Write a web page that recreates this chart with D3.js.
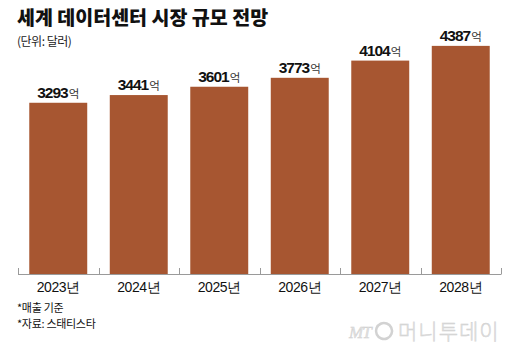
<!DOCTYPE html>
<html><head><meta charset="utf-8">
<script src="https://cdn.jsdelivr.net/npm/d3@7"></script>
<style>body{margin:0;background:#fff}svg{display:block}</style>
</head><body>
<script>
const categories = ["2023년","2024년","2025년","2026년","2027년","2028년"];
const values = [3293, 3441, 3601, 3773, 4104, 4387];
const valueLabels = ["3293","3441","3601","3773","4104","4387"];
const unitSuffix = "억";
const title = "세계 데이터센터 시장 규모 전망";
const subtitle = "(단위: 달러)";
const notes = ["*매출 기준", "*자료: 스태티스타"];

const W = 520, H = 355;
const svg = d3.select("body").append("svg").attr("width", W).attr("height", H);
const font = "'Noto Sans CJK KR','Liberation Sans',sans-serif";

svg.append("text").attr("x", 17).attr("y", 25).text(title)
  .attr("font-family", font).attr("font-weight", 900).attr("font-size", 19.5).attr("fill", "#111").attr("letter-spacing", 0);
svg.append("text").attr("x", 17).attr("y", 46).text(subtitle)
  .attr("font-family", font).attr("font-size", 12).attr("fill", "#222").attr("letter-spacing", -0.5);

const x = d3.scaleBand().domain(categories).range([18, 501]).paddingInner(0.28).paddingOuter(0.14);
const y = d3.scaleLinear().domain([0, 5000]).range([274, 14]);

const g = svg.append("g");
g.selectAll("rect").data(values).join("rect")
  .attr("x", (d, i) => x(categories[i]))
  .attr("y", d => y(d))
  .attr("width", x.bandwidth())
  .attr("height", d => y(0) - y(d))
  .attr("fill", "#A75631");

// axis
const step = (501 - 18) / categories.length;
const axis = svg.append("g");
axis.append("line").attr("x1", 18).attr("x2", 501).attr("y1", 274.5).attr("y2", 274.5).attr("stroke", "#9a9a9a");
d3.range(categories.length + 1).forEach(i => {
  const xx = Math.round(18 + i * step) + 0.5;
  axis.append("line").attr("x1", xx).attr("x2", xx).attr("y1", 268).attr("y2", 274.5).attr("stroke", "#9a9a9a");
});
axis.selectAll("text.cat").data(categories).join("text").attr("class", "cat")
  .attr("x", d => x(d) + x.bandwidth() / 2).attr("y", 292)
  .attr("text-anchor", "middle").attr("font-family", "'Liberation Sans',Arial,sans-serif")
  .attr("font-size", 14).attr("letter-spacing", -0.4).attr("fill", "#111").text(d => d);

// value labels
const lab = g.selectAll("text.val").data(values).join("text").attr("class", "val")
  .attr("x", (d, i) => x(categories[i]) + x.bandwidth() / 2)
  .attr("y", d => y(d) - 5)
  .attr("text-anchor", "middle");
lab.append("tspan").text((d, i) => valueLabels[i])
  .attr("font-family", "'Liberation Sans',Arial,sans-serif").attr("font-weight", 700)
  .attr("font-size", 15.5).attr("letter-spacing", -1).attr("fill", "#111");
lab.append("tspan").text(unitSuffix).attr("dx", 1)
  .attr("font-family", font).attr("font-size", 11.5).attr("fill", "#333");

notes.forEach((n, i) => {
  svg.append("text").attr("x", 17).attr("y", 312 + i * 16).text(n)
    .attr("font-family", font).attr("font-size", 11).attr("letter-spacing", -0.3).attr("fill", "#111");
});

// watermark
const wm = svg.append("g").attr("fill", "#e2e2e2").attr("stroke", "#cdcdcd").attr("stroke-width", 0.4);
wm.append("text").attr("x", 349).attr("y", 338).text("MT")
  .attr("font-family", "'Liberation Serif',serif").attr("font-style", "italic").attr("font-size", 17).attr("letter-spacing", -1);
wm.append("ellipse").attr("cx", 384).attr("cy", 331).attr("rx", 8).attr("ry", 8)
  .attr("fill", "none").attr("stroke", "#d2d2d2").attr("stroke-width", 2.5)
  .attr("transform", "rotate(20,384,331)");
wm.append("text").attr("x", 398).attr("y", 339).text("머니투데이")
  .attr("font-family", font).attr("font-weight", 300).attr("font-size", 21).attr("letter-spacing", 1);
</script>
</body></html>
